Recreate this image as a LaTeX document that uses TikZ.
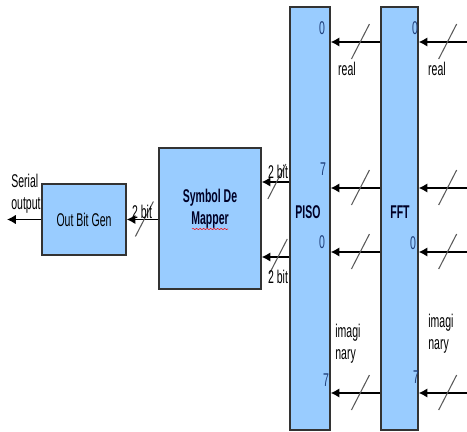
\documentclass[tikz,border=0pt]{standalone}
\usepackage{fontspec}
\setmainfont{Liberation Sans}[FakeStretch=0.57]
\usepackage{xcolor}
\usetikzlibrary{arrows.meta, decorations.pathmorphing}

\definecolor{blockblue}{HTML}{99CCFF}
\definecolor{numblue}{HTML}{1F3F7A}

% bus slash across an arrow, centred on a named point
\newcommand{\busmark}[1]{\draw[busline] ([shift={(-9,17)}]#1.center) -- ([shift={(9,-18)}]#1.center);}

\begin{document}
\begin{tikzpicture}[
    x=0.02cm, y=-0.02cm,
    font=\fontsize{10}{12}\selectfont,
    block/.style={
        draw=black!80, line width=0.8pt, fill=blockblue, align=center, inner sep=2pt,
    },
    boldtext/.style={font=\fontsize{10.5}{12.5}\selectfont\bfseries, align=center, text=black!85!blue},
    arrow/.style={-{Latex[length=5pt,width=5.5pt]}, line width=1.1pt},
    busline/.style={draw=black!65, line width=0.6pt},
    num/.style={text=numblue, font=\fontsize{10.5}{12}\selectfont, inner sep=0pt},
    lbl/.style={align=left, inner sep=0pt, font=\fontsize{10.5}{12.5}\selectfont},
    spell/.style={draw=red, line width=0.3pt, decorate,
        decoration={snake, amplitude=0.35pt, segment length=2pt}},
]
\useasboundingbox (0,0) rectangle (467,432);

% --- blocks ---
\node[block, minimum width=16.8mm, minimum height=14.2mm,
      font=\fontsize{10.5}{12}\selectfont] (outgen) at (84,219.5) {Out Bit Gen};
\node[block, minimum width=20.4mm, minimum height=28.2mm] (mapper) at (210,218.5) {};
\node[boldtext] (mappertxt) at (210,209) {Symbol De\\Mapper};
\draw[spell] ([shift={(-18,10.5)}]mapper.center) -- ++(36,0);
\node[block, minimum width=8mm, minimum height=84.6mm] (piso) at (310,218.5) {};
\node[boldtext] (pisotxt) at (308,212) {PISO};
\node[block, minimum width=7.4mm, minimum height=84.6mm] (fft) at (399.5,218.5) {};
\node[boldtext] (ffttxt) at (400,212) {FFT};

% --- inputs into FFT and FFT to PISO ---
\foreach \y in {42,188,252,393} {
    \coordinate (in\y) at (467,\y);
    \draw[arrow] (in\y) -- node[pos=.4, inner sep=0pt] (m\y) {} (fft.east |- in\y);
    \draw[arrow] (fft.west |- in\y) -- node[pos=.4, inner sep=0pt] (n\y) {} (piso.east |- in\y);
    \busmark{m\y}
    \busmark{n\y}
}

% --- PISO to mapper, mapper to out bit gen ---
\draw[arrow] (piso.west |- 0,182) -- node[pos=.45, inner sep=0pt] (b1) {} (mapper.east |- 0,182);
\draw[arrow] (piso.west |- 0,257) -- node[pos=.4, inner sep=0pt] (b2) {} (mapper.east |- 0,257);
\draw[arrow] (mapper.west |- outgen) -- node[pos=.44, inner sep=0pt] (b3) {} (outgen.east);
\busmark{b1}
\busmark{b2}
\busmark{b3}
\coordinate (serout) at (7,219.5);
\draw[arrow] (outgen.west) -- (serout);

% --- labels ---
\node[lbl] (serlbl) at (26,194) {Serial\\output};
\node[lbl] (bit3) at (142,212) {2 bit};
\node[lbl] (bit1) at (278,172) {2 bit};
\node[lbl] (bit2) at (278,277) {2 bit};
\node[lbl] (realp) at (347,69) {real};
\node[lbl] (realf) at (437,69) {real};
\node[lbl, anchor=west] (imagp) at (335,344) {imagi\\nary};
\node[lbl, anchor=west] (imagf) at (428,334) {imagi\\nary};

% --- bit indices ---
\node[num] at (322,28) {0};
\node[num] at (323,169) {7};
\node[num] at (322,242) {0};
\node[num] at (326,380) {7};
\node[num] at (415,28) {0};
\node[num] at (413,243) {0};
\node[num] at (416,377) {7};

\end{tikzpicture}
\end{document}
